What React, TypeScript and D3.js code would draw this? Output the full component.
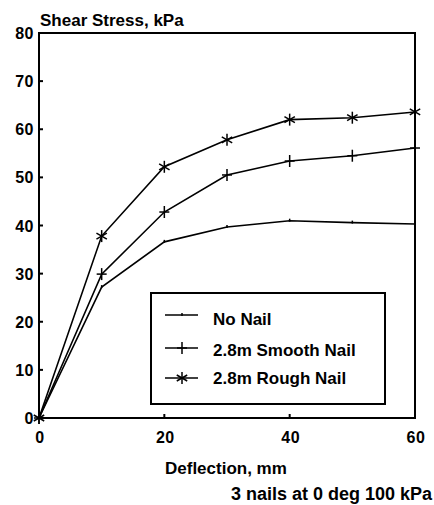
import React from "react";
import * as d3 from "d3";

const deflection = [0, 10, 20, 30, 40, 50, 60];
const noNail = [0, 27.2, 36.6, 39.7, 41.0, 40.6, 40.3];
const smoothNail = [0, 29.9, 42.8, 50.5, 53.4, 54.5, 56.1];
const roughNail = [0, 37.8, 52.2, 57.8, 62.0, 62.4, 63.6];
const seriesNames = ["No Nail", "2.8m Smooth Nail", "2.8m Rough Nail"];
const xTicks = [0, 20, 40, 60];
const yTicks = [0, 10, 20, 30, 40, 50, 60, 70, 80];

const W = 434, H = 505;
const FONT = "'Liberation Sans', Arial, sans-serif";

export default function App() {
  const x = d3.scaleLinear().domain([0, 60]).range([39, 415]);
  const y = d3.scaleLinear().domain([0, 80]).range([418, 33]);
  const line = d3.line<number>().x((_, i) => x(deflection[i])).y((v) => y(v));
  const all = [noNail, smoothNail, roughNail];

  const marker = (kind: number, cx: number, cy: number, key: string) => {
    if (kind === 0) {
      return <line key={key} x1={cx} x2={cx} y1={cy - 2} y2={cy + 1} stroke="#000" strokeWidth={1.5} />;
    }
    if (kind === 1) {
      return (
        <g key={key} stroke="#000" strokeWidth={1.5}>
          <line x1={cx} x2={cx} y1={cy - 6} y2={cy + 6} />
          <line x1={cx - 5} x2={cx + 5} y1={cy} y2={cy} />
        </g>
      );
    }
    const r = 6;
    return (
      <g key={key} stroke="#000" strokeWidth={1.5}>
        <line x1={cx} x2={cx} y1={cy - r} y2={cy + r} />
        <line x1={cx - r * 0.87} x2={cx + r * 0.87} y1={cy - r * 0.5} y2={cy + r * 0.5} />
        <line x1={cx - r * 0.87} x2={cx + r * 0.87} y1={cy + r * 0.5} y2={cy - r * 0.5} />
      </g>
    );
  };

  const legendRows = [325, 356, 384];
  const legendLines = [315, 348, 378];

  return (
    <svg width={W} height={H} style={{ position: "absolute", left: 0, top: 0, background: "#fff" }} fontFamily={FONT}>
      <rect x={0} y={0} width={W} height={H} fill="#fff" />
      <rect x={x(0)} y={y(80)} width={x(60) - x(0)} height={y(0) - y(80)} fill="none" stroke="#000" strokeWidth={2} />
      {yTicks.map((t) => (
        <g key={"y" + t}>
          <line x1={x(0)} x2={x(0) + 4} y1={y(t)} y2={y(t)} stroke="#000" strokeWidth={2} />
          <text x={34} y={y(t) + 6} textAnchor="end" fontSize={16} fontWeight="bold" letterSpacing={0.5}>{t}</text>
        </g>
      ))}
      {xTicks.map((t) => (
        <g key={"x" + t}>
          <line x1={x(t)} x2={x(t)} y1={y(0)} y2={y(0) - 4} stroke="#000" strokeWidth={2} />
          <text x={x(t) + 1} y={443} textAnchor="middle" fontSize={16} fontWeight="bold" letterSpacing={0.5}>{t}</text>
        </g>
      ))}
      <text x={40} y={26} fontSize={17} fontWeight="bold">Shear Stress, kPa</text>
      <text x={165} y={474} fontSize={17} fontWeight="bold">Deflection, mm</text>
      <text x={432} y={500} textAnchor="end" fontSize={18} fontWeight="bold">3 nails at 0 deg 100 kPa</text>
      {all.map((s, k) => (
        <g key={"s" + k}>
          <path d={line(s) || ""} fill="none" stroke="#000" strokeWidth={1.6} />
          {s.map((v, i) => marker(k, x(deflection[i]), y(v), `m${k}-${i}`))}
        </g>
      ))}
      <rect x={151} y={293} width={234} height={111} fill="#fff" stroke="#000" strokeWidth={2} />
      {seriesNames.map((n, k) => (
        <g key={"l" + k}>
          <line x1={165} x2={198} y1={legendLines[k]} y2={legendLines[k]} stroke="#000" strokeWidth={1.6} />
          {marker(k, 182, legendLines[k], "lm" + k)}
          <text x={213} y={legendRows[k]} fontSize={17} fontWeight="bold">{n}</text>
        </g>
      ))}
    </svg>
  );
}
